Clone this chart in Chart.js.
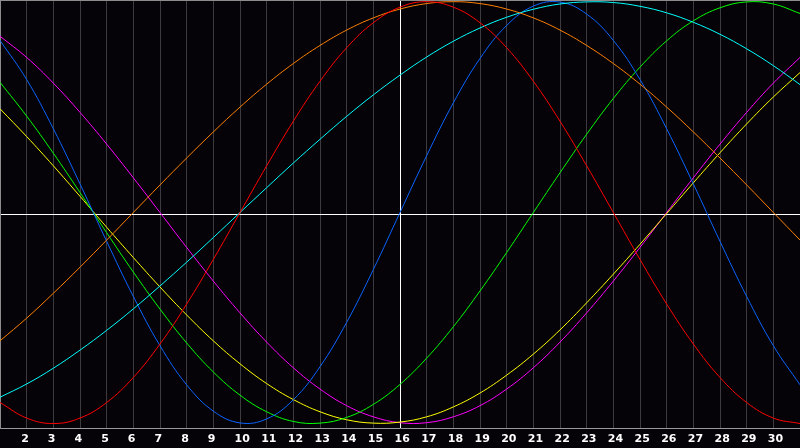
<!DOCTYPE html>
<html>
<head>
<meta charset="utf-8">
<script src="https://cdn.jsdelivr.net/npm/chart.js@4/dist/chart.umd.min.js"></script>
<style>
  html, body { margin: 0; padding: 0; background: #050308; }
  #wrap { width: 800px; height: 448px; }
</style>
</head>
<body>
<div id="wrap"><canvas id="cycleChart"></canvas></div>
<script>
// days of the month
const days = Array.from({ length: 31 }, (_, i) => String(i + 1));
const todayIndex = 15; // day 16, the white vertical marker

// curve values (percent, 0 = white centre line)
const red = [-89.4, -96.8, -99.4, -96.8, -89.4, -77.5, -61.6, -42.6, -21.4, 0.9, 23.1, 44.3, 63.3, 79.2, 91.1, 98.5, 101.1, 98.5, 91.1, 79.2, 63.3, 44.3, 23.1, 0.9, -21.4, -42.6, -61.6, -77.5, -89.4, -96.8, -99.4];
const orange = [-60.1, -49.3, -37.5, -25.1, -12.2, 0.9, 14.0, 26.8, 39.2, 51.0, 61.9, 71.7, 80.3, 87.6, 93.4, 97.6, 100.2, 101.1, 100.2, 97.6, 93.4, 87.6, 80.3, 71.7, 61.9, 51.0, 39.2, 26.8, 14.0, 0.9, -12.2];
const blue = [82.7, 64.1, 40.7, 14.5, -12.8, -39.0, -62.4, -81.0, -93.5, -99.1, -97.2, -88.1, -72.4, -51.3, -26.2, 0.9, 27.9, 53.0, 74.1, 89.8, 99.0, 100.9, 95.2, 82.7, 64.1, 40.7, 14.5, -12.8, -39.0, -62.4, -81.0];
const cyan = [-86.9, -80.6, -73.1, -64.5, -55.1, -44.9, -34.0, -22.7, -11.0, 0.9, 12.7, 24.4, 35.7, 46.6, 56.8, 66.2, 74.8, 82.3, 88.6, 93.7, 97.5, 100.0, 101.0, 100.7, 98.9, 95.8, 91.3, 85.6, 78.7, 70.7, 61.7];
const green = [62.8, 46.7, 29.1, 10.4, -8.7, -27.4, -45.0, -61.1, -74.9, -85.9, -93.8, -98.4, -99.2, -96.5, -90.3, -80.8, -68.3, -53.4, -36.4, -18.1, 0.9, 19.8, 38.1, 55.1, 70.0, 82.5, 92.0, 98.2, 101.0, 100.0, 95.5];
const yellow = [50.2, 37.0, 23.1, 8.6, -6.1, -20.5, -34.5, -47.8, -60.1, -71.0, -80.4, -88.0, -93.8, -97.6, -99.2, -98.7, -96.2, -91.5, -84.9, -76.4, -66.4, -54.9, -42.0, -28.4, -14.2, 0.4, 15.0, 29.3, 43.0, 55.8, 67.4];
const magenta = [84.7, 74.6, 62.4, 48.5, 33.4, 17.4, 0.9, -15.7, -31.7, -46.8, -60.7, -72.9, -83.0, -90.9, -96.2, -99.0, -99.0, -96.2, -90.9, -83.0, -72.9, -60.7, -46.8, -31.7, -15.7, 0.9, 17.4, 33.4, 48.5, 62.4, 74.6];

const line = (data, color) => ({
  data, borderColor: color, borderWidth: 1, pointRadius: 0, tension: 0.4, fill: false
});

// gray frame along the top edge of the plot
const frame = {
  id: 'frame',
  afterDraw(chart) {
    const { ctx, chartArea: a } = chart;
    ctx.save();
    ctx.strokeStyle = '#8c8c8c';
    ctx.lineWidth = 1;
    ctx.beginPath();
    ctx.moveTo(a.left, a.top + 0.5);
    ctx.lineTo(a.right, a.top + 0.5);
    ctx.stroke();
    ctx.restore();
  }
};

new Chart(document.getElementById('cycleChart'), {
  type: 'line',
  data: {
    labels: days,
    datasets: [
      line(red, '#ff0000'),
      line(orange, '#ff8000'),
      line(cyan, '#00ffff'),
      line(blue, '#0a64ff'),
      line(green, '#00ff00'),
      line(yellow, '#ffff00'),
      line(magenta, '#ff00ff')
    ]
  },
  options: {
    responsive: true,
    maintainAspectRatio: false,
    animation: false,
    layout: { padding: { top: 0, left: 0, right: 0, bottom: -2 } },
    plugins: { legend: { display: false }, tooltip: { enabled: false } },
    scales: {
      x: {
        offset: false,
        afterFit: s => { s.paddingLeft = 0; s.paddingRight = 0; },
        grid: {
          color: c => c.index === todayIndex ? '#ffffff' : '#3c3c40',
          drawTicks: false
        },
        border: { display: true, color: '#9a9a9a', width: 1 },
        ticks: {
          color: '#ffffff',
          autoSkip: false,
          maxRotation: 0,
          align: 'start',
          labelOffset: -5.5,
          padding: 4,
          font: { family: 'DejaVu Sans', size: 11, weight: 'bold' },
          callback: (v, i) => (i === 0 || i === days.length - 1) ? '' : days[i]
        }
      },
      y: {
        min: -101.9,
        max: 101.9,
        afterBuildTicks: s => { s.ticks = [{ value: 0 }]; },
        grid: { color: '#ffffff', drawTicks: false },
        border: { display: true, color: '#8c8c8c', width: 1 },
        ticks: { display: false }
      }
    }
  },
  plugins: [frame]
});
</script>
</body>
</html>
